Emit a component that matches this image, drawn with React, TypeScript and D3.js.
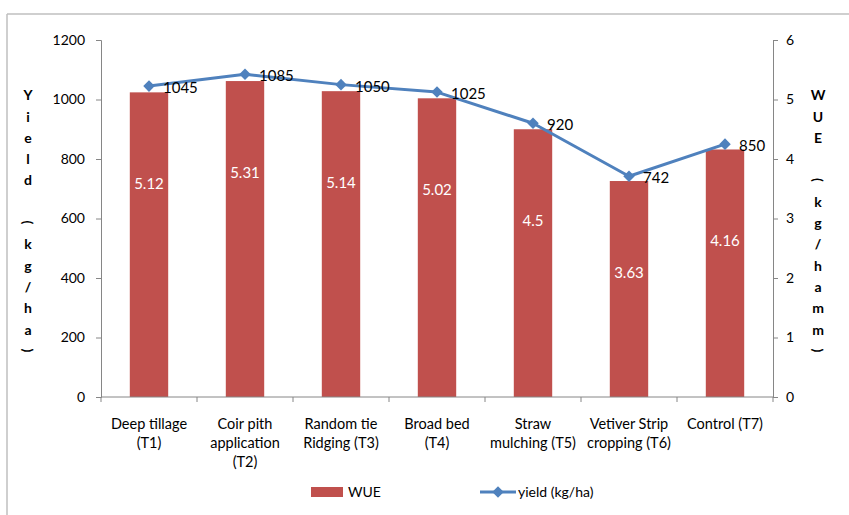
import { useEffect, useRef } from "react";
import * as d3 from "d3";

const categories = ["T1", "T2", "T3", "T4", "T5", "T6", "T7"];
const categoryLines = [
  ["Deep tillage", "(T1)"],
  ["Coir pith", "application", "(T2)"],
  ["Random tie", "Ridging (T3)"],
  ["Broad bed", "(T4)"],
  ["Straw", "mulching (T5)"],
  ["Vetiver Strip", "cropping (T6)"],
  ["Control (T7)"],
];
const wue = [5.12, 5.31, 5.14, 5.02, 4.5, 3.63, 4.16];
const yieldVals = [1045, 1085, 1050, 1025, 920, 742, 850];
const leftTicks = [0, 200, 400, 600, 800, 1000, 1200];
const rightTicks = [0, 1, 2, 3, 4, 5, 6];
const leftTitle = "Yield (kg/ha)";
const rightTitle = "WUE (kg/hamm)";

const BAR = "#C0504D";
const LINE = "#4F81BD";
const AXIS = "#868686";
const FONT = "Lato, 'Open Sans', sans-serif";

export default function App() {
  const svgRef = useRef<SVGSVGElement>(null);

  useEffect(() => {
    if (!svgRef.current) return;
    const svg = d3.select(svgRef.current);
    svg.selectAll("*").remove();

    const left = 101, right = 773, top = 40, bottom = 397;

    const x = d3.scaleBand<string>().domain(categories).range([left, right]).paddingInner(0.6).paddingOuter(0.3);
    const yL = d3.scaleLinear().domain([0, 1200]).range([bottom, top]);
    const yR = d3.scaleLinear().domain([0, 6]).range([bottom, top]);
    const cx = (i: number) => (x(categories[i]) as number) + x.bandwidth() / 2;

    // frame
    svg.append("line").attr("x1", 7).attr("x2", 7).attr("y1", 14).attr("y2", 515)
      .attr("stroke", "#BFBFBF").attr("stroke-width", 1.5);
    svg.append("line").attr("x1", 7).attr("x2", 849).attr("y1", 14).attr("y2", 14)
      .attr("stroke", "#BFBFBF").attr("stroke-width", 1.5);

    // bars
    svg.append("g").selectAll("rect").data(wue).join("rect")
      .attr("x", (_, i) => x(categories[i]) as number)
      .attr("y", (d) => yR(d))
      .attr("width", x.bandwidth())
      .attr("height", (d) => bottom - yR(d))
      .attr("fill", BAR);

    svg.append("g").selectAll("text").data(wue).join("text")
      .attr("x", (_, i) => cx(i))
      .attr("y", (d) => yR(d) + 97)
      .attr("text-anchor", "middle")
      .attr("fill", "#fff")
      .attr("font-size", "15px")
      .attr("font-family", FONT)
      .text((d) => `${d}`);

    // left axis
    const la = svg.append("g").attr("transform", `translate(${left},0)`)
      .call(d3.axisLeft(yL).tickValues(leftTicks).tickSize(5).tickPadding(11).tickFormat((d) => `${d}`));
    la.select(".domain").attr("stroke", AXIS);
    la.selectAll(".tick line").attr("stroke", AXIS);
    la.selectAll(".tick text").attr("fill", "#000").attr("font-size", "14px").attr("font-family", FONT);

    // right axis
    const ra = svg.append("g").attr("transform", `translate(${right},0)`)
      .call(d3.axisRight(yR).tickValues(rightTicks).tickSize(5).tickPadding(8).tickFormat((d) => `${d}`));
    ra.select(".domain").attr("stroke", AXIS);
    ra.selectAll(".tick line").attr("stroke", AXIS);
    ra.selectAll(".tick text").attr("fill", "#000").attr("font-size", "14px").attr("font-family", FONT);

    // x axis line + boundary ticks
    svg.append("line").attr("x1", left).attr("x2", right).attr("y1", bottom).attr("y2", bottom)
      .attr("stroke", AXIS);
    const step = x.step();
    svg.append("g").selectAll("line").data(d3.range(categories.length + 1)).join("line")
      .attr("x1", (i) => left + i * step).attr("x2", (i) => left + i * step)
      .attr("y1", bottom).attr("y2", bottom + 5)
      .attr("stroke", AXIS);

    // category labels
    const cl = svg.append("g").selectAll("text").data(categoryLines).join("text")
      .attr("text-anchor", "middle")
      .attr("font-size", "14.5px")
      .attr("font-family", FONT)
      .attr("fill", "#000");
    cl.each(function (lines, i) {
      d3.select(this).selectAll("tspan").data(lines).join("tspan")
        .attr("x", cx(i))
        .attr("y", (_, j) => 429 + j * 19)
        .text((t) => t);
    });

    // line series
    const line = d3.line<number>().x((_, i) => cx(i)).y((d) => yL(d));
    svg.append("path").datum(yieldVals)
      .attr("fill", "none").attr("stroke", LINE).attr("stroke-width", 3)
      .attr("stroke-linejoin", "round")
      .attr("d", line);

    const diamond = d3.symbol().type(d3.symbolDiamond2).size(85);
    svg.append("g").selectAll("path").data(yieldVals).join("path")
      .attr("transform", (d, i) => `translate(${cx(i)},${yL(d)})`)
      .attr("d", diamond)
      .attr("fill", LINE);

    svg.append("g").selectAll("text").data(yieldVals).join("text")
      .attr("x", (_, i) => cx(i) + 14)
      .attr("y", (d) => yL(d) + 7)
      .attr("font-size", "15px")
      .attr("font-family", FONT)
      .attr("fill", "#000")
      .text((d) => `${d}`);

    // stacked axis titles
    const stacked = (title: string, tx: number) => {
      const chars = title.split("");
      const sp = 21.3;
      const mid = (top + bottom) / 2 + 4;
      const y0 = mid - ((chars.length - 1) * sp) / 2;
      const g = svg.append("g");
      chars.forEach((c, i) => {
        if (c === " ") return;
        const yy = y0 + i * sp;
        const t = g.append("text")
          .attr("text-anchor", "middle")
          .attr("dominant-baseline", "central")
          .attr("font-size", "14px")
          .attr("font-weight", "bold")
          .attr("font-family", FONT)
          .attr("fill", "#000")
          .text(c);
        if (c === "(" || c === ")") t.attr("transform", `translate(${tx},${yy}) rotate(90)`);
        else t.attr("x", tx).attr("y", yy);
      });
    };
    stacked(leftTitle, 28);
    stacked(rightTitle, 818);

    // legend
    const lg = svg.append("g").attr("font-family", FONT).attr("font-size", "14px");
    lg.append("rect").attr("x", 311).attr("y", 487).attr("width", 32).attr("height", 10).attr("fill", BAR);
    lg.append("text").attr("x", 348).attr("y", 497).text("WUE");
    lg.append("line").attr("x1", 480).attr("x2", 516).attr("y1", 492).attr("y2", 492)
      .attr("stroke", LINE).attr("stroke-width", 3);
    lg.append("path").attr("transform", "translate(498,492)").attr("d", diamond).attr("fill", LINE);
    lg.append("text").attr("x", 518).attr("y", 497).text("yield (kg/ha)");
  }, []);

  return (
    <svg
      ref={svgRef}
      width={849}
      height={515}
      style={{ position: "absolute", left: 0, top: 0, background: "#fff" }}
    />
  );
}
